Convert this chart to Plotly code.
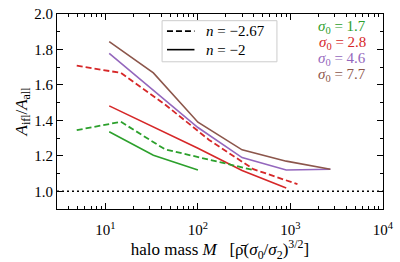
import plotly.graph_objects as go

# ---- data ----
mass_n2 = [11, 33, 100, 300, 900, 2700]          # n = -2 (solid)
mass_n267 = [4.9, 14.7, 44, 132, 397, 1190]       # n = -2.67 (dashed)

sig17_n2 = [1.336, 1.203, 1.12]
sig28_n2 = [1.482, 1.363, 1.243, 1.117, 1.018]
sig46_n2 = [1.778, 1.57, 1.36, 1.19, 1.12, 1.124]
sig77_n2 = [1.845, 1.668, 1.39, 1.234, 1.17, 1.124]

sig17_n267 = [1.345, 1.392, 1.237, 1.18, 1.12]
sig28_n267 = [1.709, 1.668, 1.49, 1.29, 1.125, 1.04]

sigma_labels = ["1.7", "2.8", "4.6", "7.7"]
colors = ["#2ca02c", "#d62728", "#9467bd", "#8c564b"]

x_ticks = [10, 100, 1000, 10000]
x_ticktext = ["10<sup>1</sup>", "10<sup>2</sup>", "10<sup>3</sup>", "10<sup>4</sup>"]
y_ticks = [1.0, 1.2, 1.4, 1.6, 1.8, 2.0]

FONT = "Liberation Serif, Times New Roman, serif"

fig = go.Figure()

solid = [sig17_n2, sig28_n2, sig46_n2, sig77_n2]
for ys, c in zip(solid, colors):
    fig.add_trace(go.Scatter(x=mass_n2[:len(ys)], y=ys, mode="lines",
                             line=dict(color=c, width=1.6), showlegend=False))

dashed = [(sig17_n267, colors[0]), (sig28_n267, colors[1])]
for ys, c in dashed:
    fig.add_trace(go.Scatter(x=mass_n267[:len(ys)], y=ys, mode="lines",
                             line=dict(color=c, width=1.8, dash="6px,3px"),
                             showlegend=False))

# reference line at 1
fig.add_shape(type="line", xref="paper", yref="y", x0=0, x1=1, y0=1.0, y1=1.0,
              line=dict(color="black", width=1.6, dash="2px,3px"))

minor_x = [m * 10 ** k for k in range(0, 4) for m in range(2, 10) if 3 <= m * 10 ** k <= 10000]

fig.update_xaxes(type="log", range=[0.477, 4.0001], tickvals=x_ticks, ticktext=x_ticktext,
                 ticks="inside", ticklen=6, tickwidth=1, tickcolor="black",
                 mirror="ticks", showline=True, linecolor="black", linewidth=1.2,
                 showgrid=False, zeroline=False, ticklabeloverflow="allow",
                 ticklabelstandoff=7,
                 minor=dict(tickvals=minor_x, ticks="inside", ticklen=3,
                            tickcolor="black", showgrid=False),
                 tickfont=dict(family=FONT, size=15, color="black"),
                 title=dict(text="halo mass <i>M</i>   [ρ̄(<i>σ</i><sub>0</sub>/<i>σ</i><sub>2</sub>)<sup>3/2</sup>]",
                            font=dict(family=FONT, size=17, color="black"), standoff=6))
fig.update_yaxes(range=[0.9, 2.0005], tickvals=y_ticks, ticktext=[f"{v:.1f}" for v in y_ticks],
                 ticks="inside", ticklen=6, tickwidth=1, tickcolor="black",
                 mirror="ticks", showline=True, linecolor="black", linewidth=1.2,
                 showgrid=False, zeroline=False, ticklabeloverflow="allow",
                 minor=dict(dtick=0.1, ticks="inside", ticklen=3, tickcolor="black",
                            showgrid=False),
                 tickfont=dict(family=FONT, size=15, color="black"),
                 title=dict(text="<i>A</i><sub>ifl</sub>/<i>A</i><sub>all</sub>",
                            font=dict(family=FONT, size=17, color="black"), standoff=2))

L, R, T, B = 57, 11, 6, 52
PW, PH = 400 - L - R, 262 - T - B


def px(x):
    return (x - L) / PW


def py(y):
    return 1 - (y - T) / PH


# line-style legend box
fig.add_shape(type="rect", xref="paper", yref="paper", x0=px(164), x1=px(281),
              y0=py(56), y1=py(13), line=dict(color="#cccccc", width=1),
              fillcolor="rgba(255,255,255,0.8)")
fig.add_shape(type="line", xref="paper", yref="paper", x0=px(169), x1=px(197),
              y0=py(24), y1=py(24), line=dict(color="black", width=1.8, dash="6px,3px"))
fig.add_shape(type="line", xref="paper", yref="paper", x0=px(169), x1=px(197),
              y0=py(43.3), y1=py(43.3), line=dict(color="black", width=1.6))
for txt, yy in [("<i>n</i> = −2.67", 24), ("<i>n</i> = −2", 43.3)]:
    fig.add_annotation(xref="paper", yref="paper", x=px(207), y=py(yy), text=txt,
                       showarrow=False, xanchor="left", yanchor="middle",
                       font=dict(family=FONT, size=15, color="black"))

# colour legend
for i, (lab, c) in enumerate(zip(sigma_labels, colors)):
    fig.add_annotation(xref="paper", yref="paper", x=px(374), y=py(20 + i * 16.7),
                       text=f"<i>σ</i><sub>0</sub> = {lab}", showarrow=False,
                       xanchor="right", yanchor="middle",
                       font=dict(family=FONT, size=15, color=c))

fig.update_layout(width=400, height=262, margin=dict(l=L, r=R, t=T, b=B),
                  paper_bgcolor="white", plot_bgcolor="white", showlegend=False)

fig.write_html("out.html")
